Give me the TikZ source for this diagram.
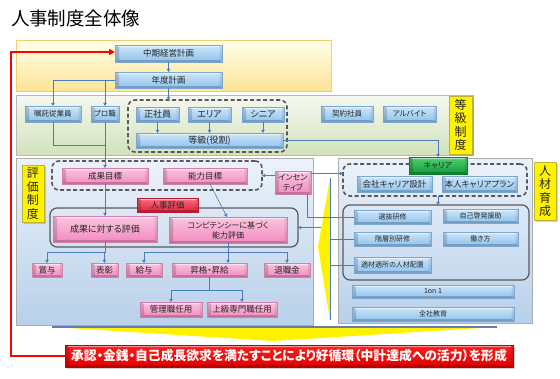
\documentclass[tikz,border=0pt]{standalone}
\usepackage{fontspec}
\setmainfont{Noto Sans CJK JP}[RawFeature=+palt]
\usetikzlibrary{arrows.meta,shadows}
\definecolor{connc}{HTML}{4A7EBB}
\definecolor{textc}{HTML}{262626}
\definecolor{bluetop}{HTML}{CFE6F9}
\definecolor{bluebot}{HTML}{8DC2EE}
\definecolor{blueedge}{HTML}{7DA7D3}
\definecolor{pinktop}{HTML}{FBC6E0}
\definecolor{pinkbot}{HTML}{F28AC0}
\definecolor{pinkedge}{HTML}{D47EA9}
\definecolor{redtop}{HTML}{F77080}
\definecolor{redbot}{HTML}{E0203C}
\definecolor{greentop}{HTML}{4FD070}
\definecolor{greenbot}{HTML}{139A3A}
\definecolor{grpc}{HTML}{595959}
\newcommand\mybox[7]{\node[#1,anchor=north west,minimum width=#5pt-#3pt,minimum height=#6pt-#4pt] (#2) at (#3,#4) {#7};}
\tikzset{
  every node/.style={inner sep=0pt,outer sep=0pt,text=textc},
  fs/.style={font=\fontsize{#1}{#1}\selectfont},
  bev/.style={path picture={
    \fill[white,opacity=.5] (path picture bounding box.north west) -- (path picture bounding box.north east) -- ([shift={(-2.5pt,-2pt)}]path picture bounding box.north east) -- ([shift={(4pt,-2pt)}]path picture bounding box.north west) -- cycle;
    \fill[black,opacity=.16] (path picture bounding box.north west) -- ([shift={(4pt,-2pt)}]path picture bounding box.north west) -- ([shift={(4pt,2pt)}]path picture bounding box.south west) -- (path picture bounding box.south west) -- cycle;
    \fill[black,opacity=.2] (path picture bounding box.south west) -- ([shift={(4pt,2pt)}]path picture bounding box.south west) -- ([shift={(-2.5pt,2pt)}]path picture bounding box.south east) -- (path picture bounding box.south east) -- cycle;
    \fill[black,opacity=.08] (path picture bounding box.north east) -- ([shift={(-2.5pt,-2pt)}]path picture bounding box.north east) -- ([shift={(-2.5pt,2pt)}]path picture bounding box.south east) -- (path picture bounding box.south east) -- cycle;
  }},
  shd/.style={drop shadow={shadow xshift=1pt,shadow yshift=-1pt,opacity=.3}},
  bluebox/.style={shd,bev,top color=bluetop,bottom color=bluebot,draw=blueedge,line width=.4pt,align=center},
  pinkbox/.style={shd,bev,top color=pinktop,bottom color=pinkbot,draw=pinkedge,line width=.4pt,align=center},
  redbox/.style={shd,bev,top color=redtop,bottom color=redbot,draw=redbot!80!black,line width=.4pt,align=center},
  greenbox/.style={shd,bev,top color=greentop,bottom color=greenbot,draw=greenbot!80!black,line width=.4pt,align=center},
  ybandst/.style={top color=yellow!8!white,bottom color={rgb,255:red,253;green,228;blue,150},draw={rgb,255:red,243;green,204;blue,110},line width=.8pt},
  gbandst/.style={top color={rgb,255:red,245;green,248;blue,240},bottom color={rgb,255:red,210;green,226;blue,186},draw=black!28,line width=.8pt},
  panelst/.style={top color={rgb,255:red,236;green,242;blue,250},bottom color={rgb,255:red,184;green,208;blue,234},draw=black!32,line width=.8pt},
  tagst/.style={fill=yellow,draw=yellow!70!black,line width=.3pt,drop shadow={shadow xshift=1.5pt,shadow yshift=-1.5pt,opacity=.35},align=center,font=\fontsize{12}{13.5}\selectfont},
  dgrp/.style={draw=grpc,line width=1.6pt,dash pattern=on 4pt off 2.5pt,rounded corners=7pt},
  sgrpst/.style={draw=grpc,line width=1.2pt,rounded corners=7pt},
  bannerst/.style={drop shadow={shadow xshift=1.5pt,shadow yshift=-1.5pt,opacity=.35},bev,top color={rgb,255:red,255;green,30;blue,30},bottom color={rgb,255:red,225;green,0;blue,0},draw={rgb,255:red,190;green,0;blue,0},line width=.4pt,text=white,font=\bfseries\fontsize{12.8}{12.8}\selectfont},
  cn/.style={draw=connc,line width=.6pt},
  ar/.style={-{Triangle[length=3.2pt,width=3.4pt]}},
}
\begin{document}
\begin{tikzpicture}[x=1pt,y=-1pt]
\useasboundingbox (0,0) rectangle (560,378);
% title
\node[anchor=west,font=\fontsize{18.5}{18.5}\selectfont,text=black] (title) at (11,18) {人事制度全体像};
% panels
\mybox{ybandst}{yband}{16}{40}{331}{91}{}
\mybox{gbandst}{gband}{16}{95}{473}{155}{}
\mybox{panelst}{epanel}{16}{158}{313}{325}{}
\mybox{panelst}{rpanel}{338}{158}{532}{323}{}
% chevrons
\fill[yellow] (52,327) -- (497,327) -- (273,341) -- cycle;
\draw[line width=1.2pt,color={rgb,255:red,100;green,125;blue,170}] (52,327) -- (497,327);
\fill[yellow] (330,178) -- (330,320) -- (318,247) -- cycle;
\draw[cn] (330,178) -- (330,320);
\coordinate (cvR) at (330,247);
\coordinate (cvT) at (321,227.5);
% tags
\mybox{tagst}{tagG}{449}{96}{472}{154}{等\\級\\制\\度}
\mybox{tagst}{tagE}{22}{165}{44}{222}{評\\価\\制\\度}
\mybox{tagst}{tagR}{534}{162}{556}{220}{人\\材\\育\\成}
% groups
\mybox{dgrp}{ggrp}{128}{100}{287}{152}{}
\mybox{dgrp}{sgrp}{52}{161}{262}{190}{}
\mybox{dgrp}{cgrp}{343}{164}{527}{196}{}
\mybox{sgrpst}{jgrp}{50}{208}{298}{247}{}
\mybox{sgrpst}{rgrp}{343}{205}{529}{280}{}
% blue boxes
\mybox{bluebox,fs=8.5}{mid}{115}{45}{222}{62}{中期経営計画}
\mybox{bluebox,fs=8.5}{nendo}{115}{72}{222}{88}{年度計画}
\mybox{bluebox,fs=7.5}{shokutaku}{25}{106}{81}{122}{嘱託従業員}
\mybox{bluebox,fs=7.5}{pro}{91}{106}{119}{122}{プロ職}
\mybox{bluebox,fs=9}{seisha}{136}{107}{179}{122}{正社員}
\mybox{bluebox,fs=9}{area}{188}{107}{231}{122}{エリア}
\mybox{bluebox,fs=9}{senior}{242}{107}{284}{122}{シニア}
\mybox{bluebox,fs=9}{tokyu}{136}{133}{283}{148}{等級(役割)}
\mybox{bluebox,fs=7.5}{keiyaku}{321}{106}{373}{122}{契約社員}
\mybox{bluebox,fs=7.5}{arubaito}{383}{106}{436}{122}{アルバイト}
\mybox{bluebox,fs=8.5}{kaisha}{357}{176}{432}{192}{会社キャリア設計}
\mybox{bluebox,fs=8.5}{honnin}{442}{176}{517}{192}{本人キャリアプラン}
\mybox{bluebox,fs=7}{senbatsu}{354}{210}{431}{224}{選抜研修}
\mybox{bluebox,fs=7}{jiko}{443}{209}{518}{223}{自己啓発援助}
\mybox{bluebox,fs=7}{kaiso}{354}{232}{431}{246}{階層別研修}
\mybox{bluebox,fs=7}{hataraki}{443}{232}{518}{246}{働き方}
\mybox{bluebox,fs=7}{tekizai}{354}{257}{431}{273}{適材適所の人材配置}
\mybox{bluebox,fs=7}{oneon}{352}{285}{514}{298}{1on 1}
\mybox{bluebox,fs=7}{zensha}{352}{307}{514}{321}{全社教育}
\mybox{greenbox,fs=8}{career}{409}{157}{467}{174}{キャリア}
% pink boxes
\mybox{pinkbox,fs=8.5}{seika}{62}{168}{148}{184}{成果目標}
\mybox{pinkbox,fs=8.5}{noryoku}{163}{168}{247}{184}{能力目標}
\mybox{pinkbox,font=\fontsize{8}{10}\selectfont}{incent}{275}{171}{311}{194}{インセン\\ティブ}
\mybox{pinkbox,fs=9}{seikahyoka}{53}{216}{157}{242}{成果に対する評価}
\mybox{pinkbox,font=\fontsize{8}{10}\selectfont}{comp}{169}{217}{287}{243}{コンピテンシーに基づく\\能力評価}
\mybox{redbox,fs=8.5}{jinji}{137}{198}{198}{212}{人事評価}
\mybox{pinkbox,fs=8.5}{shoyo}{32}{263}{62}{277}{賞与}
\mybox{pinkbox,fs=8.5}{hyosho}{91}{263}{118}{277}{表彰}
\mybox{pinkbox,fs=8.5}{kyuyo}{126}{263}{162}{277}{給与}
\mybox{pinkbox,fs=8.5}{shokaku}{172}{263}{247}{277}{昇格・昇給}
\mybox{pinkbox,fs=8.5}{taishoku}{264}{263}{310}{277}{退職金}
\mybox{pinkbox,fs=8.5}{kanri}{140}{302}{202}{317}{管理職任用}
\mybox{pinkbox,fs=8.5}{joukyu}{207}{302}{277}{317}{上級専門職任用}
% banner
\mybox{bannerst}{banner}{65}{345}{513}{367}{承認・金銭・自己成長欲求を満たすことにより好循環（中計達成への活力）を形成}
% helper coordinates
\coordinate (loopc) at (11,52);
\coordinate (yj) at (0,145);
\coordinate (yb1) at (0,252);
\coordinate (yb2) at (0,290);
% red loop
\draw[red,line width=1.8pt,-{Triangle[length=6pt,width=6pt]}] (banner.west) -| (loopc) -- (mid.west |- loopc);
% connectors
\draw[cn,ar] (mid.south) -- (nendo.north);
\draw[cn,ar] (nendo.south) -- (nendo.south |- ggrp.north);
\draw[cn,ar] (nendo.west) -| (shokutaku.north);
\draw[cn,ar] (nendo.west -| pro.north) -- (pro.north);
\draw[cn] (shokutaku.south) |- (pro.south |- yj);
\draw[cn,ar] (pro.south) -- (pro.south |- seika.north);
\draw[cn,ar] (seisha.south) -- (seisha.south |- tokyu.north);
\draw[cn,ar] (area.south) -- (area.south |- tokyu.north);
\draw[cn,ar] (senior.south) -- (senior.south |- tokyu.north);
\draw[cn,ar] (tokyu.east) -| (career.north);
\draw[cn,ar] (career.south |- cgrp.south) -- (career.south |- rgrp.north);
\draw[cn,ar] ([yshift=7pt]incent.west) -- ([yshift=7pt]incent.west -| sgrp.east);
\draw[cn,ar] ([yshift=9pt]incent.east) -- ([yshift=9pt]incent.east -| cgrp.west);
\draw[cn] ([xshift=-4pt]incent.south east) |- (senbatsu.west);
\draw[cn] (kaiso.west) -- (kaiso.west -| cvR);
\draw[cn] (tekizai.west) -- (tekizai.west -| cvR);
\draw[cn,ar] (cvT) -- (jgrp.east);
\draw[cn,ar] (seika.south) -- (seikahyoka.north);
\draw[cn,ar] ([xshift=5pt]noryoku.south) -- ([xshift=-1pt]comp.north);
\draw[cn] (seikahyoka.south) -- (seikahyoka.south |- yb1);
\draw[cn,ar] (seikahyoka.south |- yb1) -| (shoyo.north);
\draw[cn,ar] (seikahyoka.south |- yb1) -| (hyosho.north);
\draw[cn,ar] (comp.south) -- (comp.south |- shokaku.north);
\draw[cn,ar] (comp.south |- yb1) -| (kyuyo.north);
\draw[cn,ar] (comp.south |- yb1) -| (taishoku.north);
\draw[cn] (shokaku.south) -- (shokaku.south |- yb2);
\draw[cn,ar] (shokaku.south |- yb2) -| (kanri.north);
\draw[cn,ar] (shokaku.south |- yb2) -| (joukyu.north);
\end{tikzpicture}
\end{document}
